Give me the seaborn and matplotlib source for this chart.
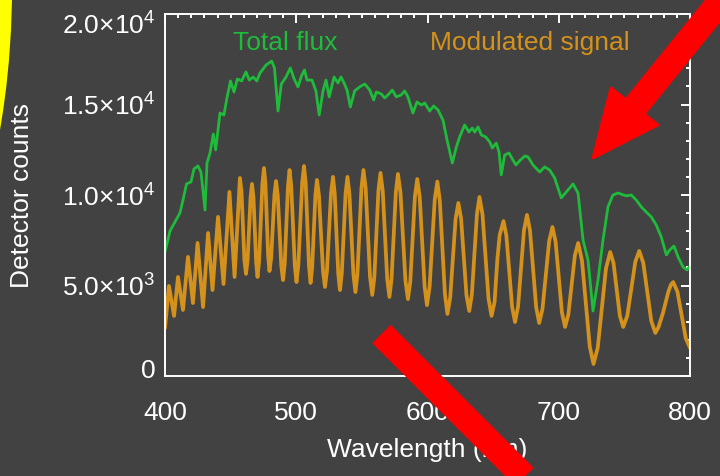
import matplotlib
matplotlib.use('Agg')
import matplotlib.pyplot as plt
import matplotlib.transforms as mtransforms
from matplotlib.patches import Polygon
from matplotlib.lines import Line2D
from matplotlib.ticker import MultipleLocator, FixedLocator
import seaborn as sns

# total flux (green curve)
flux_wl = [400.0, 403.8, 407.6, 411.4, 413.7, 416.4, 419.8, 422.1, 425.1, 427.4,
           430.5, 432.0, 434.3, 436.8, 438.6, 441.9, 444.9, 447.2, 449.9, 452.6,
           455.1, 458.4, 461.7, 464.2, 467.3, 469.9, 472.4, 477.0, 481.3, 483.4,
           486.1, 488.6, 492.2, 495.5, 498.1, 501.3, 504.0, 506.3, 508.2, 512.0,
           515.0, 517.5, 520.4, 522.7, 525.1, 528.8, 531.8, 534.1, 536.4, 538.7,
           541.2, 544.5, 548.3, 552.2, 556.0, 559.0, 561.0, 564.8, 567.4, 569.9,
           573.2, 576.2, 580.0, 582.6, 585.1, 588.9, 592.0, 595.3, 597.9, 601.7,
           604.7, 608.0, 611.8, 614.9, 618.9, 622.0, 624.5, 628.3, 631.6, 634.1,
           636.0, 638.5, 641.0, 644.3, 647.4, 649.4, 652.4, 654.5, 656.2, 658.8,
           662.1, 665.1, 667.4, 670.7, 674.3, 676.6, 680.4, 685.5, 689.3, 693.1,
           696.9, 699.4, 701.9, 705.8, 710.9, 714.7, 718.5, 722.3, 726.1, 729.9,
           733.7, 737.5, 741.3, 745.1, 751.5, 755.3, 759.1, 762.9, 766.7, 770.5,
           774.3, 778.1, 782.0, 784.5, 787.8, 790.9, 794.7, 797.7, 800.0]
flux_counts = [6850, 8010, 8510, 9010, 9720, 10610, 10720, 11440, 11600, 11270,
               9170, 11770, 12320, 13370, 12490, 14530, 14420, 15360, 16300, 15690,
               16410, 16300, 16800, 16350, 16520, 16300, 16740, 17180, 17400, 17020,
               14640, 16130, 16520, 17020, 16470, 15970, 16580, 16910, 16350, 16350,
               15750, 14420, 15750, 16350, 15420, 16520, 16190, 16520, 16190, 15800,
               14860, 15750, 15970, 16130, 15800, 15250, 15690, 15580, 15360, 15530,
               15800, 15420, 15530, 15750, 15420, 14530, 15140, 14970, 15080, 14640,
               14920, 14700, 14140, 13040, 11770, 12650, 13210, 13870, 13480, 13700,
               13480, 13760, 13320, 13210, 12930, 12600, 12870, 12380, 11110, 12210,
               12320, 11930, 11660, 11930, 12160, 12100, 11660, 11270, 11550, 11380,
               10940, 10390, 9840, 10170, 10610, 10110, 7510, 6410, 3590, 5300,
               7510, 9340, 10000, 10110, 9950, 10000, 9720, 9340, 9060, 8790,
               8340, 7680, 6690, 6960, 7180, 6580, 6020, 5860, 6080]

# modulated signal (orange curve): peaks, troughs and
# a couple of points on each flank of the wider fringes
mod_wl = [400.0, 403.0, 406.9, 409.9, 413.7, 417.5, 421.3, 424.8, 429.0, 432.8,
          436.2, 440.4, 444.6, 449.1, 453.0, 457.1,
          458.3, 460.5, 461.7, 462.9, 465.2, 466.3, 467.4, 469.5, 470.5,
          471.7, 474.2, 475.4, 476.5, 478.6, 479.6, 480.9, 483.4, 484.6,
          485.9, 488.6, 489.9, 491.2, 493.7, 494.9, 496.2, 498.9, 500.2,
          501.6, 504.5, 505.9, 507.2, 509.7, 510.9, 512.1, 514.6, 515.8,
          517.3, 520.4, 521.9, 523.4, 526.5, 528.0, 529.3, 532.0, 533.3,
          534.7, 537.6, 539.0, 540.5, 543.6, 545.1, 546.6, 549.7, 551.2,
          552.9, 556.2, 557.9, 559.5, 562.6, 564.2, 565.9, 569.3, 571.0,
          572.6, 575.9, 577.5, 579.4, 583.2, 585.1, 586.9, 590.4, 592.2,
          594.1, 597.8, 599.6, 601.6, 605.5, 607.5, 609.4, 613.3, 615.2,
          617.3, 621.4, 623.5, 625.6, 629.7, 631.8, 633.8, 637.7, 639.6,
          641.9, 646.5, 648.8, 651.1, 653.3, 655.0, 657.9,
          660.1, 664.5, 666.7, 669.0, 673.5, 675.8, 678.1, 682.8, 685.1,
          687.6, 692.7, 695.2, 697.6, 702.4, 704.8, 707.3, 712.3, 714.8,
          717.7, 723.6, 726.5, 729.7, 736.0, 739.2, 741.7, 746.6, 749.1,
          752.2, 758.3, 761.3, 764.4, 770.5, 773.6,
          776.0, 779.4, 783.5, 785.5, 787.2, 790.4, 796.8, 800.0]
mod_counts = [2650, 4970, 3320, 5470, 3650, 6580, 4030, 7350, 3810, 7900,
              4750, 8790, 5080, 10170, 5470, 10940,
              10170, 6410, 5640, 6370, 9880, 10610, 9860, 6220, 5470,
              6350, 10610, 11490, 10660, 6630, 5800, 6530, 10040, 10770,
              9970, 6100, 5300, 6190, 10490, 11380, 10480, 6090, 5190,
              6130, 10660, 11600, 10660, 6080, 5140, 5970, 10000, 10830,
              9970, 5780, 4920, 5810, 10110, 11000, 10090, 5660, 4750,
              5660, 10090, 11000, 10070, 5570, 4640, 5620, 10400, 11380,
              10370, 5490, 4480, 5460, 10240, 11220, 10220, 5370, 4370,
              5360, 10170, 11160, 10150, 5260, 4250, 5220, 9910, 10880,
              9860, 4940, 3920, 4920, 9740, 10740, 9670, 4500, 3430,
              4330, 8670, 9560, 8690, 4460, 3590, 4510, 8970, 9890,
              8930, 4280, 3320, 4090, 6500, 7790, 8560,
              7750, 3800, 2980, 3840, 8040, 8900, 8030, 3800, 2930,
              3700, 7460, 8230, 7420, 3520, 2710, 3390, 6670, 7350,
              6370, 1640, 660, 1560, 5950, 6850, 6250, 3310, 2710,
              3320, 6300, 6910, 6250, 3040, 2380,
              2700, 3480, 4650, 5050, 5190, 4660, 2080, 1550]

xtick_values = [400, 500, 600, 700, 800]
ytick_values = [0, 5000, 10000, 15000, 20000]
ytick_labels = ['0', r'$5.0{\times}10^3$', r'$1.0{\times}10^4$',
                r'$1.5{\times}10^4$', r'$2.0{\times}10^4$']

bg = '#424242'
green = '#1fbb3a'
orange = '#d4921c'

sns.set_theme(style='dark', rc={'axes.facecolor': bg, 'figure.facecolor': bg})
plt.rcParams['font.family'] = ['Liberation Sans', 'DejaVu Sans']
plt.rcParams['mathtext.fontset'] = 'custom'
plt.rcParams['mathtext.rm'] = 'Liberation Sans'
plt.rcParams['mathtext.it'] = 'Liberation Sans:italic'

fig = plt.figure(figsize=(7.2, 4.76), dpi=100, facecolor=bg)
ax = fig.add_axes([165 / 720, 100 / 476, 525 / 720, 362 / 476])
ax.set_facecolor(bg)

sns.lineplot(x=flux_wl, y=flux_counts, ax=ax, color=green, linewidth=2.0,
             estimator=None, sort=False)
sns.lineplot(x=mod_wl, y=mod_counts, ax=ax, color=orange, linewidth=2.7,
             estimator=None, sort=False)

ax.set_xlim(400, 800)
ax.set_ylim(0, 20000)
ax.xaxis.set_major_locator(FixedLocator(xtick_values))
ax.xaxis.set_minor_locator(MultipleLocator(10))
ax.yaxis.set_major_locator(FixedLocator(ytick_values))
ax.yaxis.set_minor_locator(MultipleLocator(1000))
ax.set_yticklabels(ytick_labels)
ax.grid(False)

for sp in ax.spines.values():
    sp.set_color('white')
    sp.set_linewidth(1.4)
ax.tick_params(which='both', direction='in', top=True, right=True,
               color='white', labelcolor='white', labelsize=19, width=1.4)
ax.tick_params(which='major', length=6.8)
ax.tick_params(which='minor', length=3.2)
ax.tick_params(axis='x', which='major', pad=18)
ax.tick_params(axis='y', which='major', pad=7)

# end labels sit a little inside the axis range, as in the original
ylabs = ax.get_yticklabels()
ylabs[0].set_transform(ylabs[0].get_transform() +
                       mtransforms.ScaledTranslation(0, 0.08, fig.dpi_scale_trans))
ylabs[-1].set_transform(ylabs[-1].get_transform() +
                        mtransforms.ScaledTranslation(0, -0.1, fig.dpi_scale_trans))

ax.set_xlabel('Wavelength (nm)', color='white', fontsize=19)
ax.set_ylabel('Detector counts', color='white', fontsize=19)
ax.xaxis.set_label_coords(0.5, -0.17)
ax.yaxis.set_label_coords(-0.25, 0.5)

ax.text(451.5, 18010, 'Total flux', color=green, fontsize=19)
ax.text(601.9, 18010, 'Modulated signal', color=orange, fontsize=19)


def fp(x, y):
    # pixel position -> figure fraction
    return x / 720, 1 - y / 476


# yellow arc on the left edge
yellow_pts = [fp(0, 0), fp(12, 0), fp(11, 30), fp(9, 60), fp(6.5, 85),
              fp(3.5, 108), fp(0, 130)]
fig.add_artist(Polygon(yellow_pts, closed=True, fc='#ffff00', ec='none',
                       transform=fig.transFigure))

# red arrows drawn over the figure
s1 = [fp(635, 107), fp(736, -18)]
fig.add_artist(Line2D([s1[0][0], s1[1][0]], [s1[0][1], s1[1][1]], color='red',
                      linewidth=18.7, solid_capstyle='butt',
                      transform=fig.transFigure))
fig.add_artist(Polygon([fp(593, 158), fp(611, 88), fp(658, 125)], closed=True,
                       fc='red', ec='red', lw=2, joinstyle='round',
                       transform=fig.transFigure))
s2 = [fp(381.5, 334), fp(560, 512.5)]
fig.add_artist(Line2D([s2[0][0], s2[1][0]], [s2[0][1], s2[1][1]], color='red',
                      linewidth=18.7, solid_capstyle='butt',
                      transform=fig.transFigure))

fig.savefig('out.png', dpi=100, facecolor=bg)
